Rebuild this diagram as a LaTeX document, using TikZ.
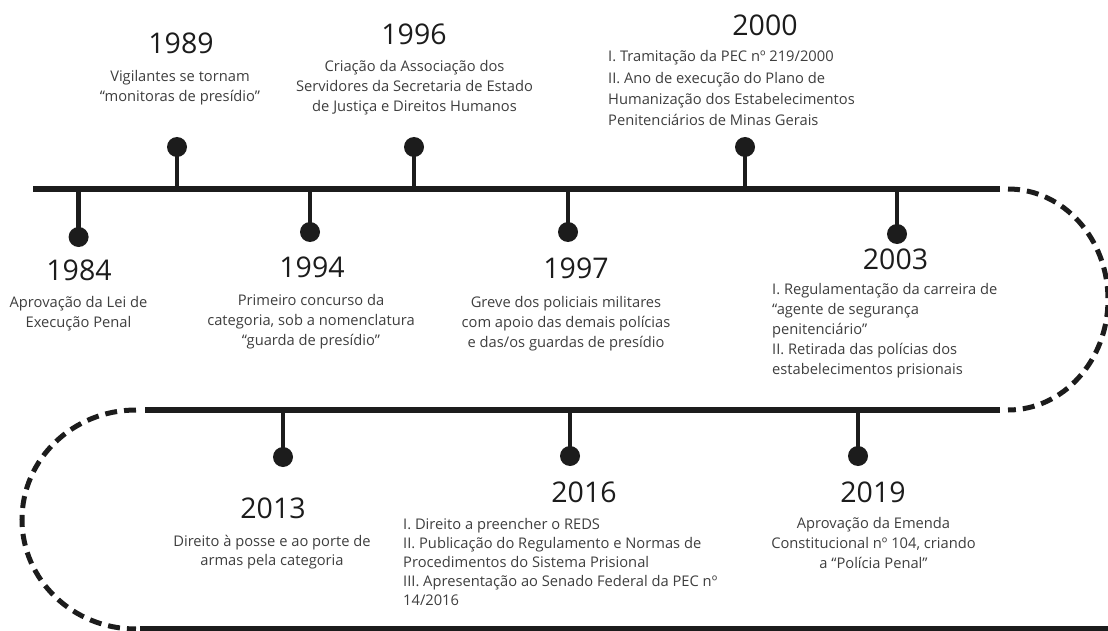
\documentclass[tikz,border=0pt]{standalone}
\usepackage{fontspec}
\setmainfont{Open Sans}
\definecolor{ink}{HTML}{1C1C1C}
\definecolor{txt}{HTML}{3E3E3E}
\newcommand{\tlc}[1]{\begin{tabular}[t]{@{}c@{}}#1\end{tabular}}
\newcommand{\tll}[1]{\begin{tabular}[t]{@{}l@{}}#1\end{tabular}}
\begin{document}
\begin{tikzpicture}[x=1pt,y=-1pt,
  yr/.style={anchor=base, inner sep=0pt, font=\fontsize{28.5}{30}\selectfont, text=ink},
  bodyc/.style={anchor=base, inner sep=0pt, font=\fontsize{14.7}{20}\selectfont, text=txt},
  bodyl/.style={anchor=base west, inner sep=0pt, font=\fontsize{14.7}{20}\selectfont, text=txt},
  axisline/.style={draw=ink, line width=5.5pt},
  tickline/.style={draw=ink, line width=4.5pt},
  dashline/.style={draw=ink, line width=5pt, dash pattern=on 12pt off 7pt},
  dot/.style={circle, fill=ink, inner sep=0pt, minimum size=20pt}]
\useasboundingbox (0,0) rectangle (1108,631);
% main lines
\coordinate (a1) at (33,189);
\coordinate (a2) at (1000,189);
\coordinate (m1) at (145,410);
\coordinate (m2) at (1000,410);
\coordinate (c1) at (140,629);
\coordinate (c2) at (1108,629);
\draw[axisline] (a1) -- (a2);
\draw[axisline] (m1) -- (m2);
\draw[axisline] (c1) -- (c2);
% dashed arcs
\coordinate (r0) at (1008,189);
\draw[dashline] (r0) arc[start angle=-90, end angle=90, x radius=100, y radius=110.5];
\coordinate (l0) at (136,410);
\draw[dashline] (l0) arc[start angle=-90, end angle=-270, x radius=114, y radius=109.5];
% ticks top row
\foreach \nm/\x/\y in {t84/78.6/237, t89/177/147, t94/310/232, t96/414/147, t97/568/232, t00/745/147, t03/897/234}{
  \coordinate (\nm b) at (\x,189);
  \node[dot] (\nm d) at (\x,\y) {};
  \draw[tickline] (\nm b) -- (\nm d.center);
}
% ticks bottom row
\foreach \nm/\x/\y in {t13/283/457, t16/570/456, t19/858/456}{
  \coordinate (\nm b) at (\x,410);
  \node[dot] (\nm d) at (\x,\y) {};
  \draw[tickline] (\nm b) -- (\nm d.center);
}
% years
\node[yr] (y84) at (79,280.2) {1984};
\node[yr] (y89) at (181,53.2) {1989};
\node[yr] (y94) at (312,277.2) {1994};
\node[yr] (y96) at (414,44.2) {1996};
\node[yr] (y97) at (576,278.2) {1997};
\node[yr] (y00) at (765,35.2) {2000};
\node[yr] (y03) at (895.5,269.2) {2003};
\node[yr] (y13) at (273,518.2) {2013};
\node[yr] (y16) at (584,502.2) {2016};
\node[yr] (y19) at (873,502.2) {2019};
% texts
\node[bodyc] (b84) at (78.5,307) {\tlc{Aprovação da Lei de\\Execução Penal}};
\node[bodyc] (b89) at (180,82) {\tlc{Vigilantes se tornam\\“monitoras de presídio”}};
\node[bodyc] (b94) at (311,305) {\tlc{Primeiro concurso da\\categoria, sob a nomenclatura\\“guarda de presídio”}};
\node[bodyc] (b96) at (414.5,72) {\tlc{Criação da Associação dos\\Servidores da Secretaria de Estado\\de Justiça e Direitos Humanos}};
\node[bodyc] (b97) at (566,307) {\tlc{Greve dos policiais militares\\com apoio das demais polícias\\e das/os guardas de presídio}};
\node[bodyl, font=\fontsize{14.7}{21.3}\selectfont] (b00) at (608,62) {\tll{I. Tramitação da PEC nº 219/2000\\II. Ano de execução do Plano de\\Humanização dos Estabelecimentos\\Penitenciários de Minas Gerais}};
\node[bodyl] (b03) at (772,294) {\tll{I. Regulamentação da carreira de\\“agente de segurança\\penitenciário”\\II. Retirada das polícias dos\\estabelecimentos prisionais}};
\node[bodyc, font=\fontsize{14.7}{19}\selectfont] (b13) at (272,546) {\tlc{Direito à posse e ao porte de\\armas pela categoria}};
\node[bodyl, font=\fontsize{14.7}{19}\selectfont] (b16) at (403,529) {\tll{I. Direito a preencher o REDS\\II. Publicação do Regulamento e Normas de\\Procedimentos do Sistema Prisional\\III. Apresentação ao Senado Federal da PEC nº\\14/2016}};
\node[bodyc] (b19) at (873.5,528) {\tlc{Aprovação da Emenda\\Constitucional nº 104, criando\\a “Polícia Penal”}};
\end{tikzpicture}
\end{document}
